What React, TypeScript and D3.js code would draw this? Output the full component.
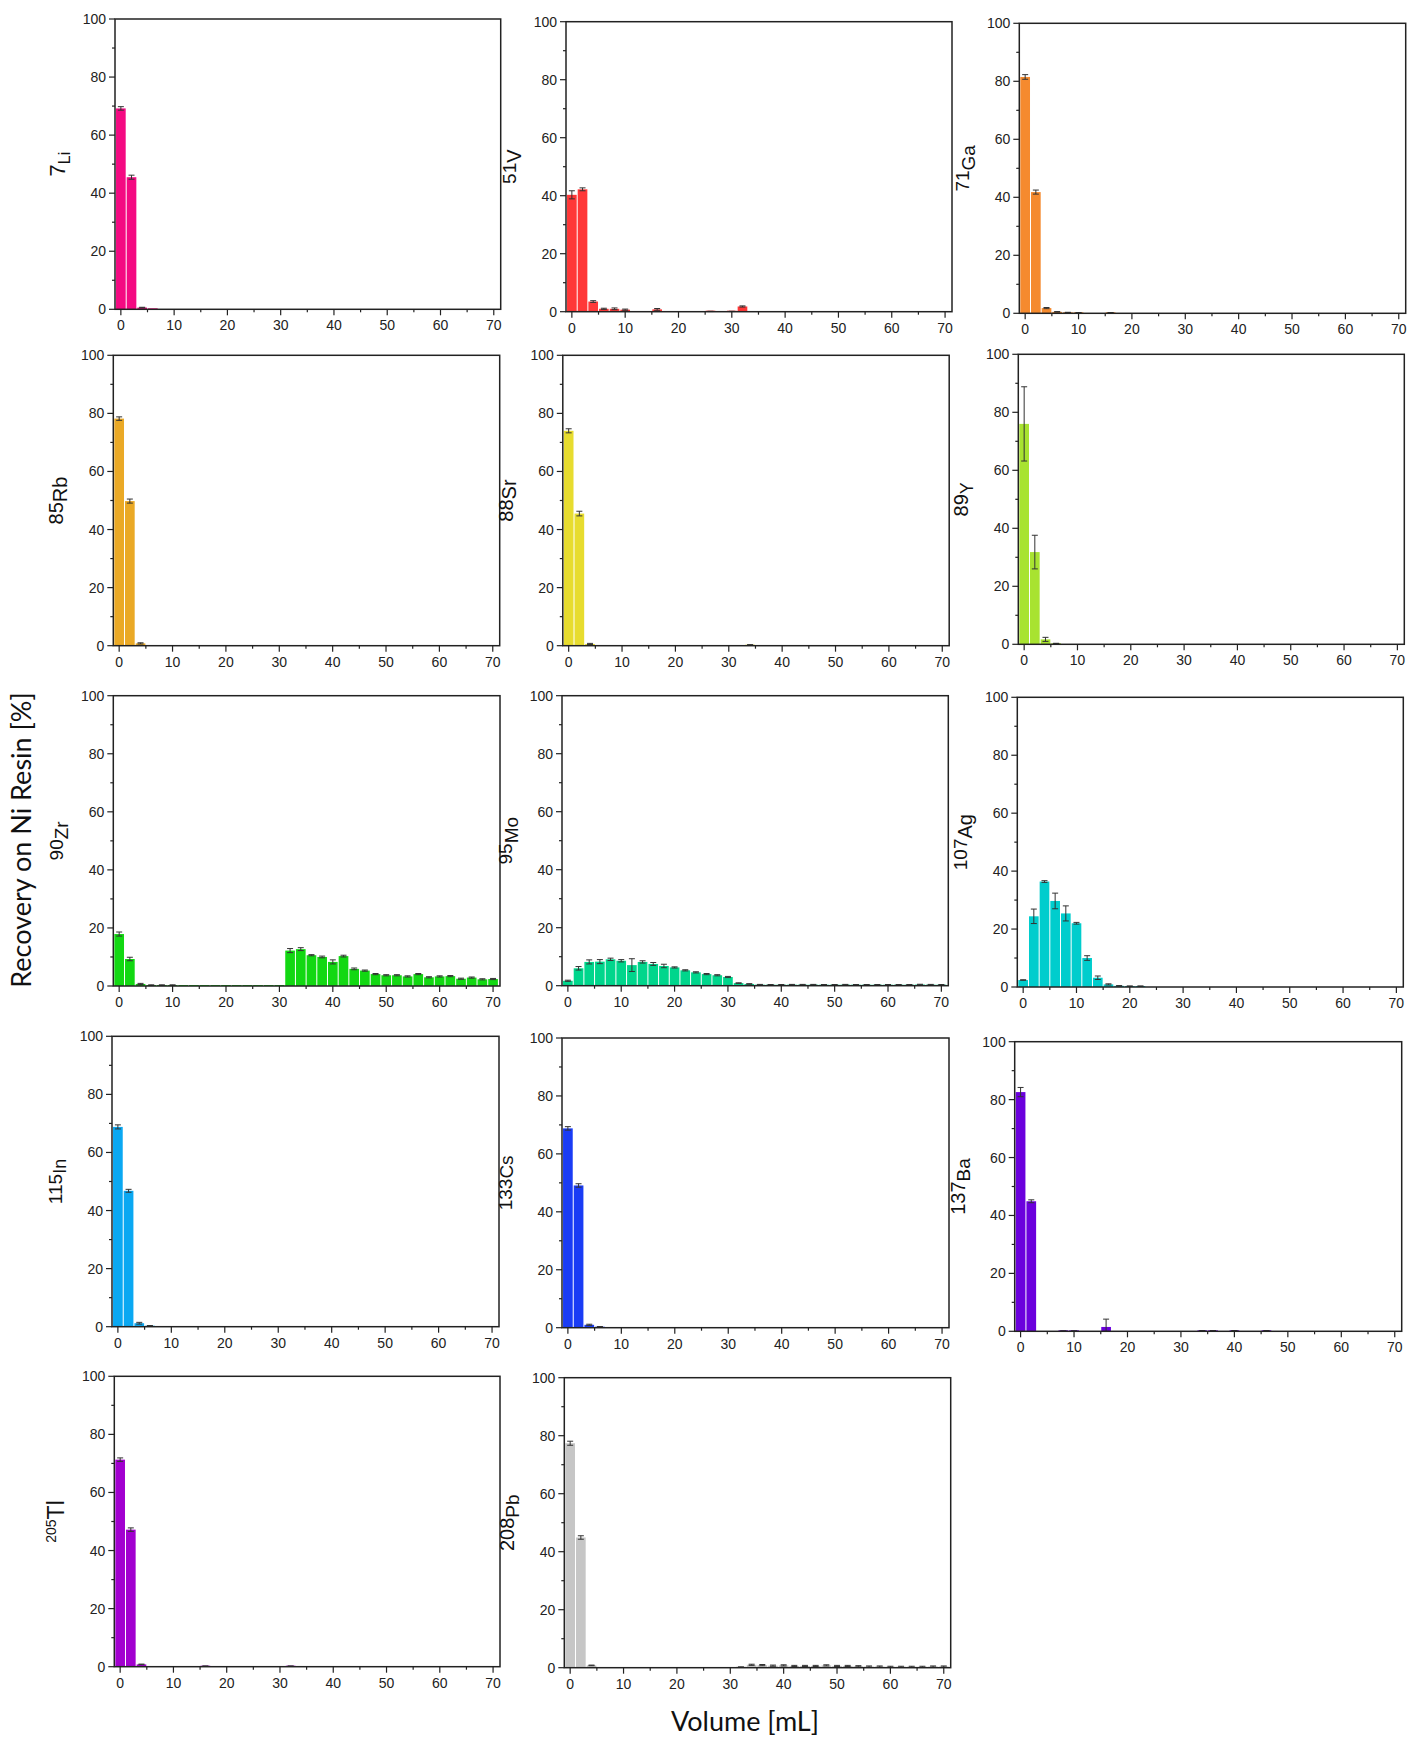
import React from "react";
import * as d3 from "d3";

// ---------- data ----------
const volumes = [0,2,4,6,8,10,12,14,16,18,20,22,24,26,28,30,32,34,36,38,40,42,44,46,48,50,52,54,56,58,60,62,64,66,68,70];

const liValues = [69.2,45.5,0.6,0.1,0,0,0,0,0,0,0,0,0,0,0,0,0,0,0,0,0,0,0,0,0,0,0,0,0,0,0,0,0,0,0,0];
const liErrors = [0.6,0.7,0.1,0,0,0,0,0,0,0,0,0,0,0,0,0,0,0,0,0,0,0,0,0,0,0,0,0,0,0,0,0,0,0,0,0];

const vValues = [40.3,42.2,3.5,1.0,1.0,0.7,0,0,0.8,0,0,0,0,0.1,0,0.1,1.8,0,0,0,0,0,0,0,0,0,0,0,0,0,0,0,0,0,0,0];
const vErrors = [1.4,0.5,0.3,0.2,0.3,0.2,0,0,0.3,0,0,0,0,0.05,0,0.05,0.2,0,0,0,0,0,0,0,0,0,0,0,0,0,0,0,0,0,0,0];

const gaValues = [81.5,41.8,1.8,0.5,0.3,0.2,0,0,0.2,0,0,0,0,0,0,0,0,0,0,0,0,0,0,0,0,0,0,0,0,0,0,0,0,0,0,0];
const gaErrors = [0.8,0.7,0.2,0.1,0.05,0.05,0,0,0.05,0,0,0,0,0,0,0,0,0,0,0,0,0,0,0,0,0,0,0,0,0,0,0,0,0,0,0];

const rbValues = [78.2,49.8,0.8,0,0,0,0,0,0,0,0,0,0,0,0,0,0,0,0,0,0,0,0,0,0,0,0,0,0,0,0,0,0,0,0,0];
const rbErrors = [0.6,0.7,0.2,0,0,0,0,0,0,0,0,0,0,0,0,0,0,0,0,0,0,0,0,0,0,0,0,0,0,0,0,0,0,0,0,0];

const srValues = [74.0,45.5,0.6,0,0,0,0,0,0,0,0,0,0,0,0,0,0,0.3,0,0,0,0,0,0,0,0,0,0,0,0,0,0,0,0,0,0];
const srErrors = [0.7,0.8,0.2,0,0,0,0,0,0,0,0,0,0,0,0,0,0,0.05,0,0,0,0,0,0,0,0,0,0,0,0,0,0,0,0,0,0];

const yValues = [76.0,31.8,1.7,0.3,0,0,0,0,0,0,0,0,0,0,0,0,0,0,0,0,0,0,0,0,0,0,0,0,0,0,0,0,0,0,0,0];
const yErrors = [12.8,5.8,0.7,0.05,0,0,0,0,0,0,0,0,0,0,0,0,0,0,0,0,0,0,0,0,0,0,0,0,0,0,0,0,0,0,0,0];

const zrValues = [17.9,9.3,0.7,0.3,0.3,0.3,0.1,0.1,0.1,0.1,0.1,0.1,0.1,0.1,0.1,0.1,12.2,12.7,10.6,10.0,8.3,10.3,5.9,5.3,4.1,3.7,3.7,3.3,4.1,3.0,3.3,3.4,2.5,2.9,2.3,2.4];
const zrErrors = [0.7,0.6,0.2,0.1,0.1,0.1,0,0,0,0,0,0,0,0,0,0,0.7,0.5,0.2,0.3,0.7,0.3,0.3,0.2,0.2,0.2,0.2,0.2,0.2,0.2,0.2,0.2,0.2,0.2,0.2,0.2];

const moValues = [1.7,6.0,8.2,8.3,9.1,8.6,7.1,8.2,7.5,6.8,6.3,5.3,4.6,4.0,3.6,3.0,0.9,0.6,0.35,0.3,0.3,0.35,0.35,0.35,0.3,0.3,0.35,0.3,0.3,0.3,0.3,0.3,0.3,0.4,0.35,0.3];
const moErrors = [0.2,0.6,0.7,0.7,0.4,0.4,2.2,0.4,0.5,0.6,0.2,0.2,0.2,0.2,0.2,0.2,0.1,0.1,0.1,0.1,0.1,0.1,0.1,0.1,0.1,0.1,0.1,0.1,0.1,0.1,0.1,0.1,0.1,0.1,0.1,0.1];

const agValues = [2.4,24.4,36.4,29.7,25.4,22.0,10.0,3.2,0.9,0.4,0.3,0.3,0,0,0,0,0,0,0,0,0,0,0,0,0,0,0,0,0,0,0,0,0,0,0,0];
const agErrors = [0.1,2.5,0.3,2.7,2.6,0.3,0.8,0.6,0.2,0.1,0.05,0.05,0,0,0,0,0,0,0,0,0,0,0,0,0,0,0,0,0,0,0,0,0,0,0,0];

const inValues = [68.8,46.8,1.2,0.3,0,0,0,0,0,0,0,0,0,0,0,0,0,0,0,0,0,0,0,0,0,0,0,0,0,0,0,0,0,0,0,0];
const inErrors = [0.7,0.5,0.3,0.1,0,0,0,0,0,0,0,0,0,0,0,0,0,0,0,0,0,0,0,0,0,0,0,0,0,0,0,0,0,0,0,0];

const csValues = [68.8,49.1,1.0,0.3,0,0,0,0,0,0,0,0,0,0,0,0,0,0,0,0,0,0,0,0,0,0,0,0,0,0,0,0,0,0,0,0];
const csErrors = [0.6,0.6,0.2,0.1,0,0,0,0,0,0,0,0,0,0,0,0,0,0,0,0,0,0,0,0,0,0,0,0,0,0,0,0,0,0,0,0];

const baValues = [82.6,44.9,0,0,0.1,0.1,0,0,1.5,0,0,0,0,0,0,0,0,0.2,0.2,0,0.2,0,0,0.2,0,0,0,0,0,0,0,0,0,0,0,0];
const baErrors = [1.6,0.5,0,0,0.05,0.05,0,0,2.7,0,0,0,0,0,0,0,0,0.05,0.05,0,0.05,0,0,0.05,0,0,0,0,0,0,0,0,0,0,0,0];

const tlValues = [71.3,47.2,0.8,0,0,0,0,0,0.2,0,0,0,0,0,0,0,0.2,0,0,0,0,0,0,0,0,0,0,0,0,0,0,0,0,0,0,0];
const tlErrors = [0.6,0.6,0.1,0,0,0,0,0,0.05,0,0,0,0,0,0,0,0.05,0,0,0,0,0,0,0,0,0,0,0,0,0,0,0,0,0,0,0];

const pbValues = [77.4,44.9,0.8,0,0,0,0,0,0,0,0,0,0,0,0,0,0.2,1.0,0.9,0.7,0.8,0.6,0.6,0.6,0.8,0.6,0.6,0.5,0.4,0.4,0.3,0.3,0.3,0.3,0.4,0.4];
const pbErrors = [0.7,0.6,0.1,0,0,0,0,0,0,0,0,0,0,0,0,0,0.1,0.2,0.2,0.2,0.2,0.2,0.2,0.2,0.2,0.2,0.2,0.2,0.2,0.2,0.2,0.2,0.2,0.2,0.2,0.2];

const yTicks = [0, 20, 40, 60, 80, 100];
const yMinorTicks = [10, 30, 50, 70, 90];
const xTicks = [0, 10, 20, 30, 40, 50, 60, 70];
const xMinorTicks = [5, 15, 25, 35, 45, 55, 65];

const xTitle = "Volume [mL]";
const yTitle = "Recovery on Ni Resin [%]";

// ---------- panels (layout + style) ----------
type Panel = {
  iso: string; elem: string; mode: "sub" | "sup";
  values: number[]; errors: number[]; color: string;
  box: [number, number, number, number];
  numSize: number; elemSize: number; shift: number;
};

const panels: Panel[] = [
  { iso: "7", elem: "Li", mode: "sub", values: liValues, errors: liErrors, color: "#F40A82", box: [115, 19, 500.7, 309.3], numSize: 22, elemSize: 16, shift: 5 },
  { iso: "51", elem: "V", mode: "sub", values: vValues, errors: vErrors, color: "#FF3838", box: [566, 21.7, 952, 311.7], numSize: 19, elemSize: 20, shift: 5 },
  { iso: "71", elem: "Ga", mode: "sub", values: gaValues, errors: gaErrors, color: "#F58A2E", box: [1019.3, 23.3, 1405.7, 313.3], numSize: 19, elemSize: 19, shift: 6 },
  { iso: "85", elem: "Rb", mode: "sub", values: rbValues, errors: rbErrors, color: "#EAA926", box: [113.3, 355.3, 499.7, 645.7], numSize: 20, elemSize: 20, shift: 4 },
  { iso: "88", elem: "Sr", mode: "sub", values: srValues, errors: srErrors, color: "#E7DC2F", box: [562.8, 355.3, 949.2, 645.7], numSize: 20, elemSize: 20, shift: 3 },
  { iso: "89", elem: "Y", mode: "sub", values: yValues, errors: yErrors, color: "#A8E330", box: [1018.3, 354.3, 1404.3, 644.3], numSize: 20, elemSize: 18, shift: 5 },
  { iso: "90", elem: "Zr", mode: "sub", values: zrValues, errors: zrErrors, color: "#12D812", box: [113.3, 695.7, 500, 986], numSize: 19, elemSize: 19, shift: 5 },
  { iso: "95", elem: "Mo", mode: "sub", values: moValues, errors: moErrors, color: "#00D68C", box: [562, 695.7, 948.3, 985.7], numSize: 19, elemSize: 19, shift: 6 },
  { iso: "107", elem: "Ag", mode: "sub", values: agValues, errors: agErrors, color: "#00CDCD", box: [1017.3, 697.3, 1403.3, 987], numSize: 19, elemSize: 20, shift: 5 },
  { iso: "115", elem: "In", mode: "sub", values: inValues, errors: inErrors, color: "#0AA8F2", box: [112, 1036.3, 499, 1326.7], numSize: 19, elemSize: 18, shift: 4 },
  { iso: "133", elem: "Cs", mode: "sub", values: csValues, errors: csErrors, color: "#1A3CF5", box: [562, 1038, 949, 1327.7], numSize: 19, elemSize: 19, shift: 1 },
  { iso: "137", elem: "Ba", mode: "sub", values: baValues, errors: baErrors, color: "#6B00DD", box: [1014.7, 1041.7, 1401.7, 1331.3], numSize: 20, elemSize: 19, shift: 5 },
  { iso: "205", elem: "Tl", mode: "sup", values: tlValues, errors: tlErrors, color: "#A200D0", box: [114.3, 1376.3, 500, 1666.7], numSize: 14, elemSize: 23, shift: 8 },
  { iso: "208", elem: "Pb", mode: "sub", values: pbValues, errors: pbErrors, color: "#C6C6C6", box: [564.3, 1377.7, 950.7, 1667.7], numSize: 20, elemSize: 19, shift: 5 },
];

const AXIS = "#222";
const FONT = "'Liberation Sans', Arial, sans-serif";

function BarPanel({ p }: { p: Panel }) {
  const [l, t, r, b] = p.box;
  const x = d3.scaleLinear().domain([-1.1, 71.3]).range([l, r]);
  const y = d3.scaleLinear().domain([0, 100]).range([b, t]);
  const bw = x(2) - x(0);
  const cx = l - 50;
  const cy = (t + b) / 2;
  const numDy = p.mode === "sup" ? -p.shift : 0;
  const elemDy = p.mode === "sup" ? p.shift : p.shift;
  return (
    <g>
      {volumes.map((v, i) => {
        const val = p.values[i];
        if (!(val > 0)) return null;
        const h = Math.max(b - y(val), 1);
        return (
          <rect key={"b" + i} x={x(v) - bw / 2 + 0.5} y={b - h} width={bw - 1} height={h} fill={p.color} />
        );
      })}
      {volumes.map((v, i) => {
        const val = p.values[i];
        const e = p.errors[i];
        if (!(val > 0) || !(e > 0)) return null;
        const y1 = y(Math.max(val - e, 0));
        const y2 = y(val + e);
        const xc = x(v);
        return (
          <g key={"e" + i} stroke="#333" strokeWidth={1}>
            <line x1={xc} x2={xc} y1={y1} y2={y2} />
            <line x1={xc - 3} x2={xc + 3} y1={y2} y2={y2} />
            <line x1={xc - 3} x2={xc + 3} y1={y1} y2={y1} />
          </g>
        );
      })}
      <rect x={l} y={t} width={r - l} height={b - t} fill="none" stroke={AXIS} strokeWidth={1.5} />
      {yTicks.map((v) => (
        <g key={"yt" + v}>
          <line x1={l - 6} x2={l} y1={y(v)} y2={y(v)} stroke={AXIS} strokeWidth={1.2} />
          <text x={l - 9} y={y(v) + 5} textAnchor="end" fontSize={14} fontFamily={FONT} fill="#222">{v}</text>
        </g>
      ))}
      {yMinorTicks.map((v) => (
        <line key={"ym" + v} x1={l - 3} x2={l} y1={y(v)} y2={y(v)} stroke={AXIS} strokeWidth={1.2} />
      ))}
      {xTicks.map((v) => (
        <g key={"xt" + v}>
          <line x1={x(v)} x2={x(v)} y1={b} y2={b + 6} stroke={AXIS} strokeWidth={1.2} />
          <text x={x(v)} y={b + 21} textAnchor="middle" fontSize={14} fontFamily={FONT} fill="#222">{v}</text>
        </g>
      ))}
      {xMinorTicks.map((v) => (
        <line key={"xm" + v} x1={x(v)} x2={x(v)} y1={b} y2={b + 3} stroke={AXIS} strokeWidth={1.2} />
      ))}
      <text transform={`translate(${cx},${cy}) rotate(-90)`} textAnchor="middle" fontFamily={FONT} fill="#111">
        <tspan fontSize={p.numSize} dy={numDy}>{p.iso}</tspan>
        <tspan fontSize={p.elemSize} dy={elemDy}>{p.elem}</tspan>
      </text>
    </g>
  );
}

export default function App() {
  return (
    <svg width={1410} height={1738} style={{ position: "absolute", left: 0, top: 0, background: "#fff" }}>
      <rect x={0} y={0} width={1410} height={1738} fill="#fff" />
      {panels.map((p, i) => (
        <BarPanel key={i} p={p} />
      ))}
      <text transform="translate(31,840) rotate(-90)" textAnchor="middle" fontSize={27} fontFamily="Lato, 'Open Sans', sans-serif" fill="#111">{yTitle}</text>
      <text x={745} y={1731} textAnchor="middle" fontSize={27} fontFamily="Lato, 'Open Sans', sans-serif" fill="#111">{xTitle}</text>
    </svg>
  );
}
